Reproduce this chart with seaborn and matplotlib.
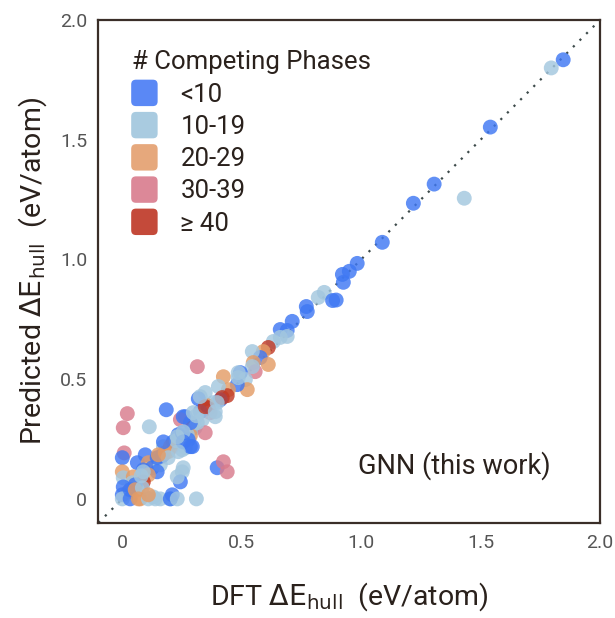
import numpy as np
import pandas as pd
import matplotlib
matplotlib.use("Agg")
import matplotlib.pyplot as plt
import matplotlib.patches as mpatches
from matplotlib.legend_handler import HandlerPatch
import seaborn as sns

# ---- data ----
dft = [1.845, 1.795, 1.540, 1.305, 1.431, 1.218, 1.088, 0.983, 0.950, 0.921,
       0.925, 0.845, 0.820, 0.880, 0.895, 0.770, 0.774, 0.711, 0.661, 0.690,
       0.661, 0.690, 0.632, 0.611, 0.590, 0.577, 0.544, 0.611, 0.548, 0.556,
       0.544, 0.494, 0.515, 0.423, 0.523, 0.481, 0.444, 0.439, 0.402, 0.347,
       0.318, 0.410, 0.381, 0.356, 0.360, 0.368, 0.326, 0.335, 0.389, 0.264,
       0.293, 0.305, 0.347, 0.285, 0.314, 0.184, 0.021, 0.004, 0.113, 0.243,
       0.314, 0.272, 0.234, 0.276, 0.209, 0.192, 0.251, 0.172, 0.213, 0.151,
       0.096, 0.063, 0.008, 0.000, 0.109, 0.126, 0.159, 0.146, 0.088, 0.000,
       0.004, 0.046, 0.109, 0.088, 0.042, 0.063, 0.025, 0.004, 0.000, 0.000,
       0.033, 0.075, 0.130, 0.159, 0.201, 0.209, 0.251, 0.255, 0.243, 0.310,
       0.397, 0.423, 0.439, 0.054, 0.079, 0.167, 0.201, 0.226, 0.251, 0.285,
       0.310,
       0.146, 0.180, 0.264, 0.293, 0.192, 0.088, 0.230, 0.033, 0.054, 0.084,
       0.067, 0.109, 0.138, 0.201, 0.230, 0.109, 0.255, 0.297, 0.347, 0.389,
       0.326, 0.418, 0.397, 0.485, 0.255, 0.255, 0.230, 0.285, 0.234, 0.172,
       0.151, 0.485]
pred = [1.833, 1.799, 1.552, 1.314, 1.255, 1.234, 1.071, 0.983, 0.950, 0.937,
        0.904, 0.862, 0.841, 0.828, 0.830, 0.803, 0.782, 0.741, 0.707, 0.703,
        0.674, 0.678, 0.657, 0.632, 0.615, 0.590, 0.615, 0.561, 0.569, 0.531,
        0.552, 0.527, 0.498, 0.510, 0.456, 0.477, 0.456, 0.431, 0.469, 0.444,
        0.418, 0.414, 0.402, 0.389, 0.377, 0.360, 0.364, 0.331, 0.343, 0.343,
        0.297, 0.297, 0.276, 0.264, 0.552, 0.372, 0.356, 0.297, 0.301, 0.331,
        0.318, 0.268, 0.268, 0.247, 0.218, 0.197, 0.205, 0.218, 0.238, 0.172,
        0.184, 0.151, 0.192, 0.172, 0.151, 0.130, 0.142, 0.113, 0.121, 0.113,
        0.088, 0.092, 0.100, 0.071, 0.067, 0.038, 0.029, 0.050, 0.017, 0.000,
        0.000, 0.000, 0.008, 0.000, 0.000, 0.017, 0.113, 0.130, 0.071, 0.000,
        0.130, 0.155, 0.113, 0.059, 0.096, 0.180, 0.218, 0.243, 0.276, 0.318,
        0.347,
        0.172, 0.192, 0.213, 0.218, 0.172, 0.113, 0.092, 0.038, 0.038, 0.046,
        0.000, 0.000, 0.000, 0.000, 0.000, 0.017, 0.343, 0.360, 0.385, 0.364,
        0.427, 0.423, 0.402, 0.506, 0.280, 0.238, 0.259, 0.218, 0.197, 0.238,
        0.184, 0.527]
group = ["<10", "10-19", "<10", "<10", "10-19", "<10", "<10", "<10", "<10", "<10",
         "<10", "10-19", "10-19", "<10", "<10", "<10", "<10", "<10", "<10", "<10",
         "10-19", "10-19", "10-19", "≥ 40", "20-29", "<10", "10-19", "20-29", "20-29", "30-39",
         "10-19", "<10", "10-19", "20-29", "20-29", "<10", "20-29", "≥ 40", "10-19", "10-19",
         "<10", "<10", "10-19", "20-29", "≥ 40", "30-39", "<10", "10-19", "10-19", "<10",
         "≥ 40", "10-19", "30-39", "20-29", "30-39", "<10", "30-39", "30-39", "10-19", "30-39",
         "10-19", "10-19", "<10", "<10", "30-39", "20-29", "10-19", "10-19", "<10", "<10",
         "<10", "<10", "30-39", "<10", "20-29", "<10", "10-19", "<10", "<10", "20-29",
         "10-19", "20-29", "20-29", "≥ 40", "10-19", "10-19", "20-29", "<10", "<10", "10-19",
         "<10", "20-29", "10-19", "10-19", "10-19", "<10", "10-19", "10-19", "<10", "10-19",
         "<10", "30-39", "30-39", "<10", "10-19", "<10", "20-29", "10-19", "<10", "<10",
         "10-19",
         "<10", "20-29", "10-19", "<10", "10-19", "10-19", "10-19", "<10", "20-29", "10-19",
         "20-29", "10-19", "10-19", "<10", "10-19", "20-29", "<10", "10-19", "≥ 40", "10-19",
         "10-19", "≥ 40", "10-19", "10-19", "10-19", "<10", "10-19", "<10", "10-19", "<10",
         "20-29", "10-19"]
categories = ["<10", "10-19", "20-29", "30-39", "≥ 40"]
palette_colors = ["#3f78f3", "#a3c7df", "#e49c66", "#d87b8d", "#c13a26"]
legend_colors = ["#5a88f5", "#a9cbe0", "#e6a87c", "#dc8898", "#c44a3a"]

df = pd.DataFrame({"dft": dft, "pred": pred, "group": group})

# ---- figure ----
sns.set_theme(style="white")
plt.rcParams["font.family"] = ["Roboto", "DejaVu Sans"]

fig = plt.figure(figsize=(6.15, 6.18), dpi=100)
ax = fig.add_axes([0.160, 0.154, 0.816, 0.814])

lims = (-0.1, 2.0)
ax.plot(lims, lims, linestyle=(0, (1, 3.2)), color="#3d4a4a", linewidth=1.6, zorder=1)

sns.scatterplot(data=df, x="dft", y="pred", hue="group", hue_order=categories,
                palette=dict(zip(categories, palette_colors)), s=115, alpha=0.82,
                edgecolor="none", linewidth=0, legend=False, ax=ax, zorder=2)

ax.set_xlim(lims)
ax.set_ylim(lims)
ticks = [0, 0.5, 1.0, 1.5, 2.0]
tick_labels = ["0", "0.5", "1.0", "1.5", "2.0"]
ax.set_xticks(ticks)
ax.set_xticklabels(tick_labels)
ax.set_yticks(ticks)
ax.set_yticklabels(tick_labels)
ax.tick_params(direction="in", length=6, width=1.5, color="#3a2e28",
               labelsize=14, labelcolor="#555555", pad=8)
for sp in ax.spines.values():
    sp.set_color("#3a2e28")
    sp.set_linewidth(1.6)

ax.set_xlabel(r"DFT $\Delta\mathrm{E}_{\mathrm{hull}}$  (eV/atom)", fontsize=20.5,
              color="#2a211c", labelpad=20)
ax.set_ylabel(r"Predicted $\Delta\mathrm{E}_{\mathrm{hull}}$  (eV/atom)", fontsize=20.5,
              color="#2a211c", labelpad=8)

ax.text(0.985, 0.14, "GNN (this work)", fontsize=19.5, color="#2a211c",
        ha="left", va="center")


def round_patch(legend, orig_handle, xdescent, ydescent, width, height, fontsize):
    size = min(width, height) * 1.15
    x0 = -xdescent + (width - size) / 2
    y0 = -ydescent + (height - size) / 2
    return mpatches.FancyBboxPatch((x0, y0), size, size,
                                   boxstyle="round,pad=0,rounding_size=%f" % (size * 0.18))


handles = [mpatches.Patch(facecolor=c, edgecolor="none") for c in legend_colors]
leg = ax.legend(handles, categories, title="# Competing Phases", loc="upper left",
                bbox_to_anchor=(0.02, 0.985), frameon=False, fontsize=18.5,
                title_fontsize=18.5, handlelength=1.0, handleheight=1.0,
                handletextpad=0.9, labelspacing=0.27, alignment="left",
                handler_map={mpatches.Patch: HandlerPatch(patch_func=round_patch)})
for t in leg.get_texts():
    t.set_color("#2a211c")
leg.get_title().set_color("#2a211c")

fig.savefig("out.png", dpi=100)
